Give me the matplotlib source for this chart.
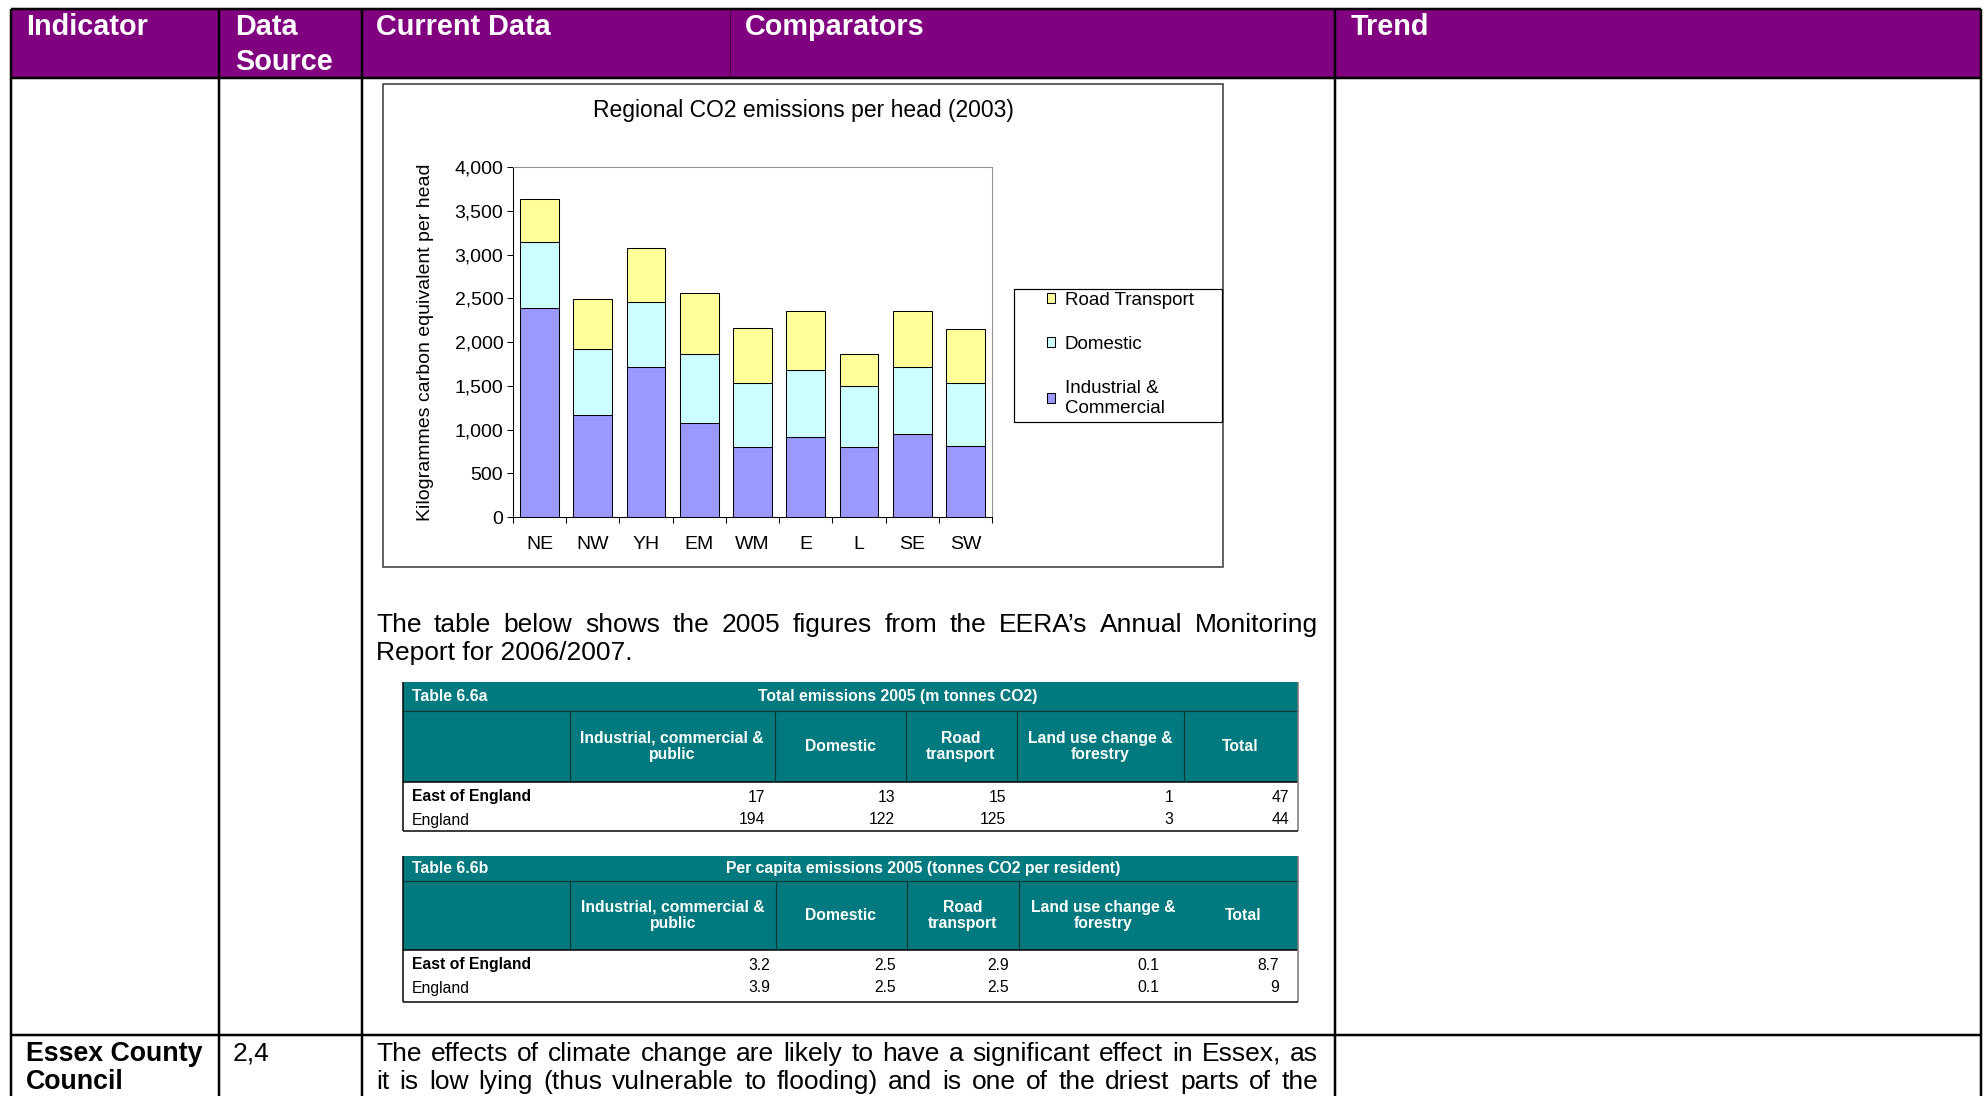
import matplotlib
matplotlib.use("Agg")
import matplotlib.pyplot as plt
from matplotlib import font_manager as fm
from matplotlib.patches import Rectangle

# chart data (kg carbon equivalent per head, 2003)
regions = ["NE", "NW", "YH", "EM", "WM", "E", "L", "SE", "SW"]
industrial = [2390, 1170, 1710, 1080, 800, 920, 800, 950, 810]
domestic = [750, 750, 750, 780, 730, 760, 700, 760, 720]
road = [495, 570, 620, 695, 635, 675, 360, 645, 620]
series_names = ["Industrial &\nCommercial", "Domestic", "Road Transport"]
series_colors = ["#9999FF", "#CCFFFF", "#FFFF99"]
yticks = [0, 500, 1000, 1500, 2000, 2500, 3000, 3500, 4000]

# document text
header_labels = ["Indicator", "Data\nSource", "Current Data", "Comparators", "Trend"]
intro_text = ["The table below shows the 2005 figures from the EERA\u2019s Annual Monitoring",
              "Report for 2006/2007."]
essex_text = ["The effects of climate change are likely to have a significant effect in Essex, as",
              "it is low lying (thus vulnerable to flooding) and is one of the driest parts of the"]

# EERA tables
table_cols = ["Industrial, commercial &\npublic", "Domestic", "Road\ntransport",
              "Land use change &\nforestry", "Total"]
table_rows = ["East of England", "England"]
total_emissions = [["17", "13", "15", "1", "47"], ["194", "122", "125", "3", "44"]]
per_capita = [["3.2", "2.5", "2.9", "0.1", "8.7"], ["3.9", "2.5", "2.5", "0.1", "9"]]

W, H = 1986, 1096
plt.rcParams["font.family"] = ["Liberation Sans", "DejaVu Sans"]
names = {f.name for f in fm.fontManager.ttflist}
if "Liberation Sans Narrow" in names:
    narrow, nscale = "Liberation Sans Narrow", 1.0
else:
    narrow, nscale = "Liberation Sans", 0.87


def lw(p):
    return p * 0.72


fig = plt.figure(figsize=(W / 100, H / 100), dpi=100)
page = fig.add_axes([0, 0, 1, 1])
page.set_xlim(0, W)
page.set_ylim(H, 0)
page.axis("off")

# grid of the document table
page.add_patch(Rectangle((11, 9), 1970, 69, facecolor="#800080", edgecolor="none"))
page.vlines(730, 9, 78, color="#4a004a", lw=lw(1))
page.hlines([9, 78, 1035], 11, 1981, color="black", lw=lw(2.5))
page.vlines([11, 219, 362, 1335, 1981], 9, H, color="black", lw=lw(2.5))

head_x = [26, 235, 376, 745, 1351]
for x, lab in zip(head_x, header_labels):
    for i, line in enumerate(lab.split("\n")):
        page.text(x, 35 + 35 * i, line, color="white", fontweight="bold",
                  fontsize=20.8, va="baseline")

renderer = fig.canvas.get_renderer()


def justify(line, x0, x1, y, **kw):
    words = line.split(" ")
    texts = [page.text(0, y, w, va="baseline", **kw) for w in words]
    widths = [t.get_window_extent(renderer).width for t in texts]
    gap = (x1 - x0 - sum(widths)) / (len(words) - 1)
    x = x0
    for t, w in zip(texts, widths):
        t.set_x(x)
        x += w + gap


justify(intro_text[0], 376, 1318, 632, fontsize=19)
page.text(376, 660, intro_text[1], va="baseline", fontsize=19)
justify(essex_text[0], 376, 1318, 1061, fontsize=19)
justify(essex_text[1], 376, 1318, 1089, fontsize=19)
page.text(26, 1061, "Essex County", fontweight="bold", fontsize=19.3, va="baseline")
page.text(26, 1089, "Council", fontweight="bold", fontsize=19.3, va="baseline")
page.text(233, 1061, "2,4", fontsize=19, va="baseline")

# chart frame and title
page.add_patch(Rectangle((383, 84), 840, 483, facecolor="white", edgecolor="#333333", lw=lw(1.5)))
page.text(803, 111, "Regional CO2 emissions per head (2003)", ha="center", va="center", fontsize=16.5)
page.add_patch(Rectangle((1014, 289), 208, 133, facecolor="white", edgecolor="black", lw=lw(1.2), zorder=3))

ax = fig.add_axes([513 / W, 1 - 517 / H, 479 / W, 350 / H])
x = list(range(len(regions)))
bottom = [0] * len(regions)
bars = []
for vals, name, col in zip([industrial, domestic, road], series_names, series_colors):
    b = ax.bar(x, vals, 0.73, bottom=bottom, color=col, edgecolor="black", lw=0.75, label=name)
    bottom = [p + q for p, q in zip(bottom, vals)]
    bars.append(b)

ax.set_xlim(-0.5, 8.5)
ax.set_ylim(0, 4000)
ax.set_yticks(yticks)
ax.set_yticklabels([f"{v:,}" for v in yticks])
ax.set_xticks(x)
ax.set_xticklabels(regions)
ax.set_xticks([i - 0.5 for i in range(len(regions) + 1)], minor=True)
ax.tick_params(axis="x", which="major", length=0, pad=14, labelsize=14)
ax.tick_params(axis="x", which="minor", length=4, width=0.75, direction="out")
ax.tick_params(axis="y", length=4, width=0.75, direction="out", pad=3, labelsize=14)
for s in ["left", "bottom"]:
    ax.spines[s].set_color("black")
    ax.spines[s].set_linewidth(0.75)
for s in ["top", "right"]:
    ax.spines[s].set_color("#909090")
    ax.spines[s].set_linewidth(0.75)
ax.set_ylabel("Kilogrammes carbon equivalent per head", fontsize=14)
ax.yaxis.set_label_coords((425 - 513) / 479, 0.5)
ax.yaxis.label.set_verticalalignment("center")

ax.legend(handles=bars[::-1], labels=series_names[::-1], frameon=False, loc="upper left",
          bbox_to_anchor=(1045 / W, 1 - 290 / H), bbox_transform=fig.transFigure,
          fontsize=13.5, handlelength=0.45, handleheight=0.45, handletextpad=0.5,
          labelspacing=1.45, borderpad=0.1, borderaxespad=0)

# EERA tables drawn on the page
teal = "#007A7E"


def draw_table(y0, y1, y2, y3, title, subtitle, sub_x, dividers, centers, rights, values):
    x0, x1 = 403, 1298
    page.add_patch(Rectangle((x0, y0), x1 - x0, y2 - y0, facecolor=teal, edgecolor="none"))
    page.hlines(y1, x0, x1, color="#103838", lw=lw(1.2))
    page.hlines(y2, x0, x1, color="black", lw=lw(1.5))
    page.vlines(dividers, y1, y2, color="#103838", lw=lw(1.2))
    page.vlines(x0, y0, y3, color="black", lw=lw(1.5))
    page.vlines(x1, y0, y3, color="#777777", lw=lw(1.5))
    page.hlines(y3, x0, x1, color="black", lw=lw(1.5))
    tc = (y0 + y1) / 2
    page.text(412, tc, title, color="white", fontweight="bold", family=narrow,
              fontsize=13 * nscale, va="center")
    page.text(sub_x, tc, subtitle, color="white", fontweight="bold", family=narrow,
              fontsize=13 * nscale, va="center", ha="center")
    hc = (y1 + y2) / 2
    for cx, lab in zip(centers, table_cols):
        page.text(cx, hc, lab, color="white", fontweight="bold", family=narrow,
                  fontsize=13 * nscale, va="center", ha="center", linespacing=1.15)
    for r, (lab, row) in enumerate(zip(table_rows, values)):
        ry = y2 + 15 + 23 * r
        page.text(412, ry, lab, fontweight="bold" if r == 0 else "normal", family=narrow,
                  fontsize=13 * nscale, va="center")
        for rx, v in zip(rights, row):
            page.text(rx, ry, v, family=narrow, fontsize=13 * nscale, va="center", ha="right")


draw_table(682, 711, 782, 831, "Table 6.6a", "Total emissions 2005 (m tonnes CO2)", 898,
           [570, 775, 906, 1017, 1184], [672, 840, 961, 1100, 1240],
           [765, 895, 1006, 1173, 1289], total_emissions)
draw_table(856, 881, 950, 1002, "Table 6.6b", "Per capita emissions 2005 (tonnes CO2 per resident)", 923,
           [570, 776, 907, 1019], [673, 841, 963, 1103, 1243],
           [770, 896, 1009, 1159, 1279], per_capita)

fig.savefig("out.png", dpi=100)
